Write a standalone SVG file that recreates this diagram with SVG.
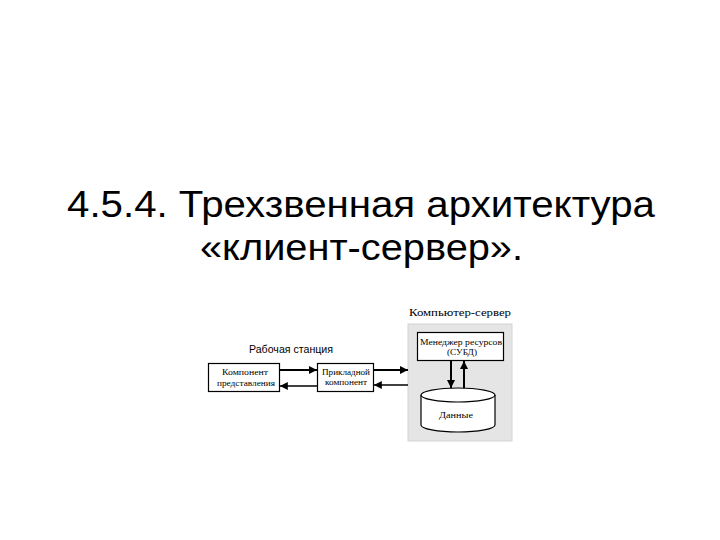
<svg xmlns="http://www.w3.org/2000/svg" width="720" height="540" viewBox="0 0 720 540">
  <defs>
    <style>
      .title { font-family: "Liberation Sans", Arial, sans-serif; font-size: 36px; fill: #000; text-anchor: middle; }
      .lbl { font-family: "Liberation Serif", "Times New Roman", serif; fill: #000; text-anchor: middle; }
      .sans { font-family: "Liberation Sans", Arial, sans-serif; fill: #000; text-anchor: middle; }
      .box { fill: #fff; stroke: #000; stroke-width: 1.2; }
      .wire { stroke: #000; fill: none; }
    </style>
    <marker id="ah" viewBox="0 0 10 10" refX="10" refY="5" markerWidth="6" markerHeight="4" markerUnits="strokeWidth" orient="auto">
      <path d="M0,0 L10,5 L0,10 z" fill="#000"/>
    </marker>
    <marker id="ah2" viewBox="0 0 10 10" refX="10" refY="5" markerWidth="9" markerHeight="6" markerUnits="strokeWidth" orient="auto">
      <path d="M0,0 L10,5 L0,10 z" fill="#000"/>
    </marker>
  </defs>
  <rect width="720" height="540" fill="#fff"/>

  <g id="title">
    <text class="title" x="361" y="217" textLength="588" lengthAdjust="spacingAndGlyphs">4.5.4. Трехзвенная архитектура</text>
    <text class="title" x="361.5" y="260" textLength="323" lengthAdjust="spacingAndGlyphs">«клиент-сервер».</text>
  </g>

  <g id="server">
    <text class="lbl" x="460" y="316" font-size="10" textLength="102" lengthAdjust="spacingAndGlyphs">Компьютер-сервер</text>
    <rect x="408" y="324" width="104" height="117" fill="#e5e5e5" stroke="#d4d4d4" stroke-width="1"/>
  </g>

  <g id="workstation">
    <text class="sans" x="291" y="353" font-size="10" textLength="84" lengthAdjust="spacingAndGlyphs">Рабочая станция</text>
  </g>

  <g id="presentation">
    <rect class="box" x="208.5" y="363.5" width="71" height="28"/>
    <text class="lbl" x="245" y="375" font-size="8" textLength="46" lengthAdjust="spacingAndGlyphs">Компонент</text>
    <text class="lbl" x="246" y="386" font-size="8" textLength="58" lengthAdjust="spacingAndGlyphs">представления</text>
  </g>

  <g id="application">
    <rect class="box" x="317.5" y="363.5" width="56" height="28"/>
    <text class="lbl" x="346" y="375" font-size="8" textLength="48" lengthAdjust="spacingAndGlyphs">Прикладной</text>
    <text class="lbl" x="346" y="385" font-size="8" textLength="42" lengthAdjust="spacingAndGlyphs">компонент</text>
  </g>

  <g id="manager">
    <rect class="box" x="417.5" y="332.5" width="86" height="28"/>
    <text class="lbl" x="461" y="345" font-size="8" textLength="82" lengthAdjust="spacingAndGlyphs">Менеджер ресурсов</text>
    <text class="lbl" x="462" y="355" font-size="8" textLength="30" lengthAdjust="spacingAndGlyphs">(СУБД)</text>
  </g>

  <g id="data">
    <path d="M421,395 L421,425 A37,7 0 0 0 495,425 L495,395" fill="#fff" stroke="#000" stroke-width="1.2"/>
    <ellipse cx="458" cy="395" rx="37" ry="7" fill="#fff" stroke="#000" stroke-width="1.2"/>
    <text class="lbl" x="456" y="418" font-size="9" textLength="34" lengthAdjust="spacingAndGlyphs">Данные</text>
  </g>

  <g id="connectors">
    <line class="wire" x1="280" y1="370" x2="317" y2="370" stroke-width="2" marker-end="url(#ah)"/>
    <line class="wire" x1="317" y1="386" x2="280" y2="386" stroke-width="1.3" marker-end="url(#ah2)"/>
    <line class="wire" x1="374" y1="370" x2="408" y2="370" stroke-width="2" marker-end="url(#ah)"/>
    <line class="wire" x1="408" y1="385" x2="374" y2="385" stroke-width="1.3" marker-end="url(#ah2)"/>
    <line class="wire" x1="451" y1="361" x2="451" y2="388" stroke-width="2" marker-end="url(#ah)"/>
    <line class="wire" x1="464" y1="388" x2="464" y2="361" stroke-width="2" marker-end="url(#ah)"/>
  </g>
</svg>
